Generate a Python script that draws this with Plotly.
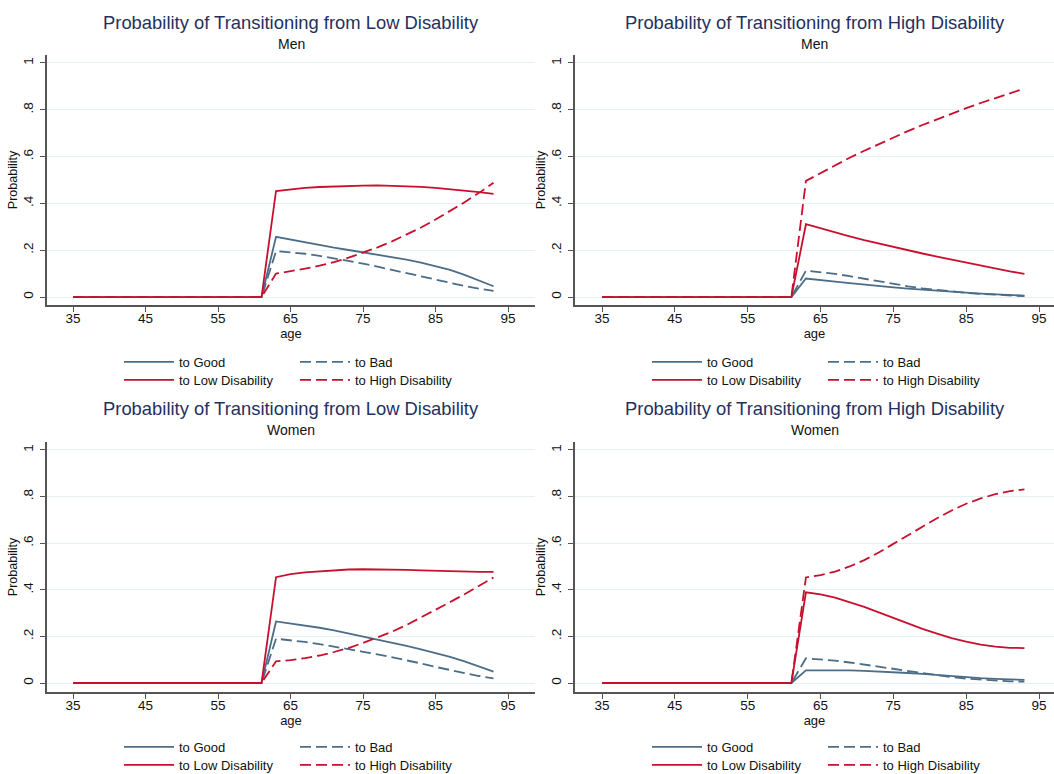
import plotly.graph_objects as go

# ---------------- data ----------------
ages = list(range(35, 95, 2))          # 35, 37, ..., 93
zeros = [0.0] * 14                     # ages 35..61

# Men, from Low Disability
men_low_good = zeros + [.257, .245, .233, .222, .211, .201, .191, .181, .171, .160, .147, .133, .116, .095, .071, .046]
men_low_bad = zeros + [.196, .192, .185, .176, .166, .155, .143, .130, .116, .102, .088, .074, .060, .047, .036, .026]
men_low_low = zeros + [.453, .461, .466, .470, .473, .475, .476, .477, .476, .474, .471, .466, .461, .455, .448, .441]
men_low_high = zeros + [.100, .110, .121, .134, .149, .168, .189, .212, .238, .266, .297, .331, .367, .405, .445, .488]

# Men, from High Disability
men_high_good = zeros + [.079, .074, .066, .059, .052, .046, .041, .036, .031, .027, .023, .019, .015, .011, .008, .006]
men_high_bad = zeros + [.113, .107, .099, .089, .078, .066, .055, .046, .037, .030, .024, .018, .013, .009, .006, .004]
men_high_low = zeros + [.311, .293, .276, .259, .243, .228, .214, .200, .186, .173, .160, .146, .134, .122, .110, .099]
men_high_high = zeros + [.496, .530, .563, .595, .625, .654, .682, .709, .735, .760, .784, .807, .829, .850, .871, .891]

# Women, from Low Disability
wom_low_good = zeros + [.264, .256, .247, .237, .226, .213, .200, .187, .173, .159, .144, .129, .112, .093, .072, .049]
wom_low_bad = zeros + [.190, .184, .176, .167, .157, .146, .134, .123, .111, .098, .084, .069, .055, .042, .030, .020]
wom_low_low = zeros + [.454, .467, .475, .480, .484, .487, .488, .488, .487, .485, .483, .481, .479, .478, .477, .477]
wom_low_high = zeros + [.093, .098, .107, .118, .133, .150, .172, .195, .220, .249, .281, .313, .347, .381, .417, .453]

# Women, from High Disability
wom_high_good = zeros + [.054, .055, .055, .054, .052, .050, .047, .043, .039, .034, .029, .025, .021, .018, .015, .013]
wom_high_bad = zeros + [.106, .102, .096, .088, .079, .069, .059, .049, .040, .032, .025, .019, .014, .010, .007, .006]
wom_high_low = zeros + [.389, .380, .366, .348, .327, .303, .279, .255, .232, .212, .193, .178, .165, .156, .151, .150]
wom_high_high = zeros + [.453, .463, .478, .500, .527, .560, .597, .634, .672, .707, .740, .769, .792, .810, .823, .831]

series_names = ["to Good", "to Bad", "to Low Disability", "to High Disability"]
panel_titles = ["Probability of Transitioning from Low Disability",
                "Probability of Transitioning from High Disability",
                "Probability of Transitioning from Low Disability",
                "Probability of Transitioning from High Disability"]
panel_subtitles = ["Men", "Men", "Women", "Women"]
x_ticks = [35, 45, 55, 65, 75, 85, 95]
y_ticks = [0, 0.2, 0.4, 0.6, 0.8, 1]
y_ticklabels = ["0", ".2", ".4", ".6", ".8", "1"]

panels = [
    [men_low_good, men_low_bad, men_low_low, men_low_high],
    [men_high_good, men_high_bad, men_high_low, men_high_high],
    [wom_low_good, wom_low_bad, wom_low_low, wom_low_high],
    [wom_high_good, wom_high_bad, wom_high_low, wom_high_high],
]

# ---------------- style ----------------
BLUE = "#4b6d88"
RED = "#c8102e"
TITLE_C = "#1f3160"
FONT = "Liberation Sans, Arial, sans-serif"
W, H = 1054, 774
styles = [(BLUE, "solid"), (BLUE, "11px,5px"), (RED, "solid"), (RED, "11px,5px")]

# pixel geometry of panels
xdom_px = [(47, 535), (575, 1054), (47, 535), (575, 1054)]
ydom_px = [(55, 305), (55, 305), (442, 692), (442, 692)]
xranges = [[31.41, 98.72], [31.29, 97.06], [31.41, 98.72], [31.29, 97.06]]
yranges = [[-0.034, 1.034], [-0.034, 1.034], [-0.0386, 1.034], [-0.0386, 1.034]]
title_y_px = [22.5, 22.5, 408, 408]
sub_y_px = [44, 44, 430, 430]
legend_rows_px = [[362, 380], [362, 380], [747, 765], [747, 765]]
legend_x_px = [119, 119 + 528, 119, 119 + 528]

fig = go.Figure()
layout = dict(width=W, height=H, margin=dict(l=0, r=0, t=0, b=0, autoexpand=False),
              paper_bgcolor="white", plot_bgcolor="white",
              font=dict(family=FONT, size=13, color="#111"), annotations=[])

for p in range(4):
    ax = "" if p == 0 else str(p + 1)
    for s in range(4):
        row = s // 2
        leg_idx = 2 * p + row + 1
        leg_name = "legend" if leg_idx == 1 else f"legend{leg_idx}"
        c, d = styles[s]
        fig.add_trace(go.Scatter(
            x=ages, y=panels[p][s], mode="lines", name=series_names[s],
            line=dict(color=c, width=1.8, dash=d),
            xaxis="x" + ax, yaxis="y" + ax, legend=leg_name, showlegend=True,
        ))
    x0, x1 = xdom_px[p]
    yt, yb = ydom_px[p]
    layout["xaxis" + ax] = dict(
        domain=[x0 / W, x1 / W], range=xranges[p], anchor="y" + ax,
        tickmode="array", tickvals=x_ticks, ticks="outside", ticklen=5, tickwidth=1,
        tickcolor="#555", showline=True, linecolor="#555", linewidth=1.5,
        showgrid=False, zeroline=False, tickfont=dict(size=13.5, color="#111"),
        ticklabelstandoff=-5,
        title=dict(text="age", font=dict(size=13, color="#111"), standoff=0),
    )
    layout["yaxis" + ax] = dict(
        domain=[1 - yb / H, 1 - yt / H], range=yranges[p], anchor="x" + ax,
        tickmode="array", tickvals=y_ticks, ticktext=y_ticklabels, tickangle=-90,
        ticks="outside", ticklen=5, tickwidth=1, tickcolor="#555",
        showline=True, linecolor="#555", linewidth=1.5,
        showgrid=True, gridcolor="#e6eff1", gridwidth=1, zeroline=False,
        tickfont=dict(size=13.5, color="#111"), ticklabelstandoff=2,
        title=dict(text="Probability", font=dict(size=12.5, color="#111"), standoff=0),
    )
    cx = (x0 + x1) / 2 / W
    layout["annotations"].append(dict(
        text=panel_titles[p], x=cx, y=1 - title_y_px[p] / H, xref="paper", yref="paper",
        xanchor="center", yanchor="middle", showarrow=False,
        font=dict(size=18.4, color=TITLE_C, family=FONT)))
    layout["annotations"].append(dict(
        text=panel_subtitles[p], x=cx, y=1 - sub_y_px[p] / H, xref="paper", yref="paper",
        xanchor="center", yanchor="middle", showarrow=False,
        font=dict(size=14, color="#111", family=FONT)))
    for row in range(2):
        leg_idx = 2 * p + row + 1
        leg_name = "legend" if leg_idx == 1 else f"legend{leg_idx}"
        layout[leg_name] = dict(
            x=legend_x_px[p] / W, y=1 - legend_rows_px[p][row] / H,
            xanchor="left", yanchor="middle", orientation="h",
            entrywidth=111, entrywidthmode="pixels",
            bgcolor="rgba(0,0,0,0)", borderwidth=0, itemwidth=50,
            font=dict(size=13, color="#111", family=FONT), tracegroupgap=0,
            itemclick=False, itemdoubleclick=False,
        )

fig.update_layout(**layout)
fig.write_html("out.html")
